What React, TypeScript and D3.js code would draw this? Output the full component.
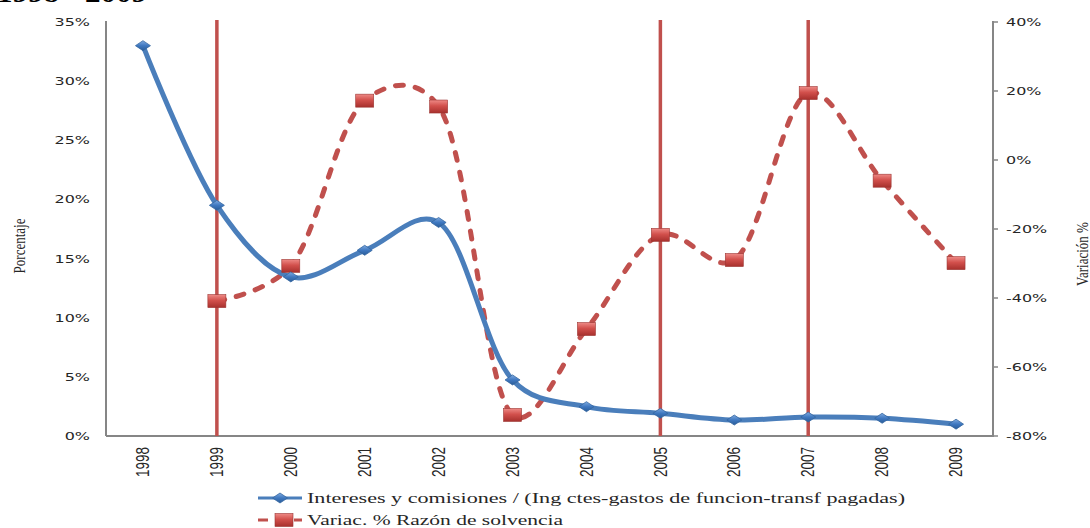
import * as d3 from "d3";

const years = ["1998", "1999", "2000", "2001", "2002", "2003", "2004", "2005", "2006", "2007", "2008", "2009"];
// Intereses y comisiones / (Ing ctes-gastos de funcion-transf pagadas), %
const interesesValues = [33.0, 19.5, 13.45, 15.7, 18.05, 4.74, 2.48, 1.92, 1.35, 1.6, 1.5, 1.0];
// Variac. % Razón de solvencia (no value for 1998)
const solvenciaValues: (number | null)[] = [null, -40.9, -30.7, 17.2, 15.5, -73.9, -49, -21.7, -29, 19.4, -6, -29.9];
const leftTicks = [0, 5, 10, 15, 20, 25, 30, 35];
const rightTicks = [-80, -60, -40, -20, 0, 20, 40];
const markedYears = ["1999", "2005", "2007"];

const legendLabels = [
  "Intereses y comisiones / (Ing ctes-gastos de funcion-transf pagadas)",
  "Variac. % Razón de solvencia",
];

/** plot box */
const left = 106;
const right = 993;
const top = 22;
const bottom = 436;

const blue = "#4A7EBB";
const red = "#C0504D";
const axisGrey = "#868686";
const textColor = "#262626";

const App = () => {
  const x = d3.scaleBand().domain(years).range([left, right]);
  const cx = (year: string) => (x(year) ?? 0) + x.bandwidth() / 2;
  const yLeft = d3.scaleLinear().domain([0, 35]).range([bottom, top]);
  const yRight = d3.scaleLinear().domain([-80, 40]).range([bottom, top]);

  const bluePoints = years.map((yr, i) => [cx(yr), yLeft(interesesValues[i])] as [number, number]);
  const redPoints = years
    .map((yr, i) => ({ yr, v: solvenciaValues[i] }))
    .filter((d) => d.v !== null)
    .map((d) => [cx(d.yr), yRight(d.v as number)] as [number, number]);

  // Excel-like smoothing
  const line = d3.line().curve(d3.curveCatmullRom.alpha(0.25));

  const diamond = (px: number, py: number, key: string | number) => (
    <path
      key={key}
      d={`M${px - 7.5},${py} L${px},${py - 5} L${px + 7.5},${py} L${px},${py + 5} Z`}
      fill="url(#blueGrad)"
      stroke="#3466a0"
      strokeWidth={0.8}
    />
  );
  const square = (px: number, py: number, key: string | number) => (
    <rect
      key={key}
      x={px - 9}
      y={py - 6.5}
      width={18}
      height={13}
      fill="url(#redGrad)"
      stroke="#9c3532"
      strokeWidth={0.6}
    />
  );

  return (
    <svg width={1090} height={528} style={{ position: "absolute", left: 0, top: 0 }}>
      <defs>
        <linearGradient id="redGrad" x1="0" y1="0" x2="0" y2="1">
          <stop offset="0" stopColor="#EE8A86" />
          <stop offset="0.45" stopColor="#D2504C" />
          <stop offset="1" stopColor="#A7302D" />
        </linearGradient>
        <linearGradient id="blueGrad" x1="0" y1="0" x2="0" y2="1">
          <stop offset="0" stopColor="#7FAAE0" />
          <stop offset="0.5" stopColor="#3F78C0" />
          <stop offset="1" stopColor="#2A5C98" />
        </linearGradient>
      </defs>
      <rect width={1090} height={528} fill="#fff" />

      {/* title, mostly outside the frame as in the reference */}
      <text
        x={-3}
        y={2}
        fontFamily="Liberation Serif"
        fontWeight="bold"
        fontSize={26}
        textLength={150}
        lengthAdjust="spacingAndGlyphs"
        fill="#000"
      >
        1998 - 2009
      </text>

      {/* axes */}
      <line x1={left} x2={left} y1={top - 1} y2={bottom} stroke={axisGrey} strokeWidth={2} />
      <line x1={right} x2={right} y1={top - 1} y2={bottom} stroke={axisGrey} strokeWidth={2} />
      <line x1={left} x2={right + 1} y1={bottom} y2={bottom} stroke={axisGrey} strokeWidth={2} />
      {rightTicks.map((t) => (
        <line key={t} x1={right} x2={right + 5} y1={yRight(t)} y2={yRight(t)} stroke={axisGrey} strokeWidth={1.5} />
      ))}

      {/* left tick labels */}
      {leftTicks.map((t) => (
        <text
          key={t}
          transform={`translate(90, ${yLeft(t) + 4}) scale(1.45, 1)`}
          textAnchor="end"
          fontFamily="DejaVu Sans"
          fontSize={11}
          fill={textColor}
        >
          {t}%
        </text>
      ))}
      {/* right tick labels */}
      {rightTicks.map((t) => (
        <text
          key={t}
          transform={`translate(1006, ${yRight(t) + 4}) scale(1.45, 1)`}
          fontFamily="DejaVu Sans"
          fontSize={11}
          fill={textColor}
        >
          {t}%
        </text>
      ))}

      {/* x labels */}
      {years.map((yr) => (
        <text
          key={yr}
          transform={`translate(${cx(yr)}, 447) scale(1.3, 1) rotate(-90)`}
          textAnchor="end"
          dy="0.35em"
          fontFamily="Liberation Sans"
          fontSize={13.5}
          fill={textColor}
        >
          {yr}
        </text>
      ))}

      {/* axis titles */}
      <text
        transform={`translate(25, 246) scale(1.3, 1) rotate(-90)`}
        textAnchor="middle"
        fontFamily="Liberation Serif"
        fontSize={13}
        fill={textColor}
      >
        Porcentaje
      </text>
      <text
        transform={`translate(1088, 254) scale(1.3, 1) rotate(-90)`}
        textAnchor="middle"
        fontFamily="Liberation Serif"
        fontSize={13}
        fill={textColor}
      >
        Variación %
      </text>

      {/* vertical marker lines */}
      {markedYears.map((yr) => (
        <line key={yr} x1={cx(yr)} x2={cx(yr)} y1={top - 2} y2={bottom} stroke={red} strokeWidth={3.5} />
      ))}

      {/* series */}
      <path d={line(redPoints) ?? ""} fill="none" stroke={red} strokeWidth={5} strokeDasharray="8 12" strokeLinecap="round" />
      <path d={line(bluePoints) ?? ""} fill="none" stroke={blue} strokeWidth={5} />
      {redPoints.map(([px, py], i) => square(px, py, i))}
      {bluePoints.map(([px, py], i) => diamond(px, py, i))}

      {/* legend */}
      <line x1={258} x2={302} y1={498} y2={498} stroke={blue} strokeWidth={3} />
      {diamond(280, 498, "lg1")}
      <text
        x={307}
        y={503}
        fontFamily="Liberation Serif"
        fontSize={14}
        textLength={598}
        lengthAdjust="spacingAndGlyphs"
        fill={textColor}
      >
        {legendLabels[0]}
      </text>
      <line x1={258} x2={302} y1={520} y2={520} stroke={red} strokeWidth={3} strokeDasharray="10 8" />
      {square(284, 520, "lg2")}
      <text
        x={307}
        y={525}
        fontFamily="Liberation Serif"
        fontSize={14}
        textLength={256}
        lengthAdjust="spacingAndGlyphs"
        fill={textColor}
      >
        {legendLabels[1]}
      </text>
    </svg>
  );
};

export default App;
